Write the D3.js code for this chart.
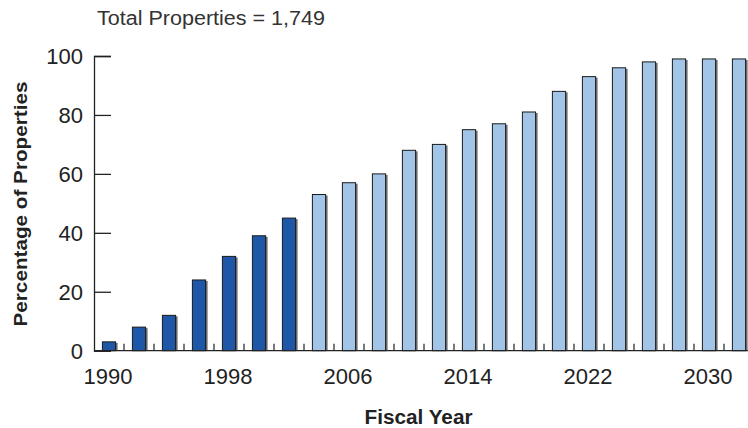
<!DOCTYPE html>
<html>
<head>
<meta charset="utf-8">
<style>
    body { margin: 0; background: #fff; }
    svg { display: block; background: #fff; }
    text { font-family: "Liberation Sans", Arial, sans-serif; fill: #222; }
</style>
<script src="https://d3js.org/d3.v7.min.js"></script>
</head>
<body>
<svg id="chart" width="748" height="428"></svg>
<script>
// fiscal years (every second year) and share of properties
var years = [1990, 1992, 1994, 1996, 1998, 2000, 2002, 2004, 2006, 2008, 2010,
             2012, 2014, 2016, 2018, 2020, 2022, 2024, 2026, 2028, 2030, 2032];
var percent = [3, 8, 12, 24, 32, 39, 45, 53, 57, 60, 68,
               70, 75, 77, 81, 88, 93, 96, 98, 99, 99, 99];
// first 7 bars are the dark series, the rest the light one
var series = ["actual", "actual", "actual", "actual", "actual", "actual", "actual",
              "projected", "projected", "projected", "projected", "projected", "projected", "projected",
              "projected", "projected", "projected", "projected", "projected", "projected", "projected", "projected"];
var yTicks = [0, 20, 40, 60, 80, 100];
var xLabels = [1990, 1998, 2006, 2014, 2022, 2030];

var colors = { actual: "#1f57a8", projected: "#a2c4e6" };

var svg = d3.select("#chart");

var x = d3.scaleBand()
    .domain(years)
    .range([94, 754])
    .paddingInner(0.56)
    .paddingOuter(0.28);

var y = d3.scaleLinear()
    .domain([0, 100])
    .range([350.7, 56]);

// title
svg.append("text")
    .attr("x", 97).attr("y", 25)
    .attr("font-size", 19.5)
    .attr("textLength", 228)
    .attr("lengthAdjust", "spacingAndGlyphs")
    .style("fill", "#333")
    .text("Total Properties = 1,749");

// bars: shadow first, then the bar
var bars = svg.append("g");
bars.selectAll("rect.shadow")
    .data(years)
    .enter().append("rect")
    .attr("class", "shadow")
    .attr("x", function(d) { return x(d) + 2; })
    .attr("y", function(d, i) { return y(percent[i]) + 1; })
    .attr("width", x.bandwidth())
    .attr("height", function(d, i) { return y(0) - y(percent[i]) - 1; })
    .attr("fill", "#707070");

bars.selectAll("rect.bar")
    .data(years)
    .enter().append("rect")
    .attr("class", "bar")
    .attr("x", function(d) { return x(d); })
    .attr("y", function(d, i) { return y(percent[i]); })
    .attr("width", x.bandwidth())
    .attr("height", function(d, i) { return y(0) - y(percent[i]); })
    .attr("fill", function(d, i) { return colors[series[i]]; })
    .attr("stroke", "#1a1a1a")
    .attr("stroke-width", 1);

// y axis with inward ticks
var yAxis = svg.append("g")
    .attr("transform", "translate(94,0)")
    .call(d3.axisRight(y).tickValues(yTicks).tickSize(17).tickFormat(""));
yAxis.select(".domain").attr("stroke", "#222").attr("stroke-width", 1.3);
yAxis.selectAll(".tick line").attr("stroke", "#222").attr("stroke-width", 1.3);

svg.append("g").selectAll("text")
    .data(yTicks)
    .enter().append("text")
    .attr("x", 83)
    .attr("y", function(d) { return y(d) + 8; })
    .attr("text-anchor", "end")
    .attr("font-size", 22)
    .text(function(d) { return d; });

// x axis line
svg.append("line")
    .attr("x1", 94).attr("x2", 748)
    .attr("y1", y(0)).attr("y2", y(0))
    .attr("stroke", "#222").attr("stroke-width", 1.3);

// small ticks between bars
svg.append("g").selectAll("line")
    .data(years.slice(1))
    .enter().append("line")
    .attr("x1", function(d) { return x(d) - x.step() * x.paddingInner() / 2; })
    .attr("x2", function(d) { return x(d) - x.step() * x.paddingInner() / 2; })
    .attr("y1", y(0) - 7).attr("y2", y(0))
    .attr("stroke", "#222").attr("stroke-width", 1.2);

// year labels
svg.append("g").selectAll("text")
    .data(xLabels)
    .enter().append("text")
    .attr("x", function(d) { return x(d) + x.bandwidth() / 2 - 1; })
    .attr("y", 383.5)
    .attr("text-anchor", "middle")
    .attr("font-size", 22)
    .text(function(d) { return d; });

// axis titles
svg.append("text")
    .attr("transform", "translate(27,204) rotate(-90)")
    .attr("text-anchor", "middle")
    .attr("font-size", 19)
    .attr("font-weight", "bold")
    .attr("textLength", 245)
    .attr("lengthAdjust", "spacingAndGlyphs")
    .text("Percentage of Properties");

svg.append("text")
    .attr("x", 418.5).attr("y", 424)
    .attr("text-anchor", "middle")
    .attr("font-size", 19.5)
    .attr("font-weight", "bold")
    .attr("textLength", 108)
    .attr("lengthAdjust", "spacingAndGlyphs")
    .text("Fiscal Year");
</script>
</body>
</html>
